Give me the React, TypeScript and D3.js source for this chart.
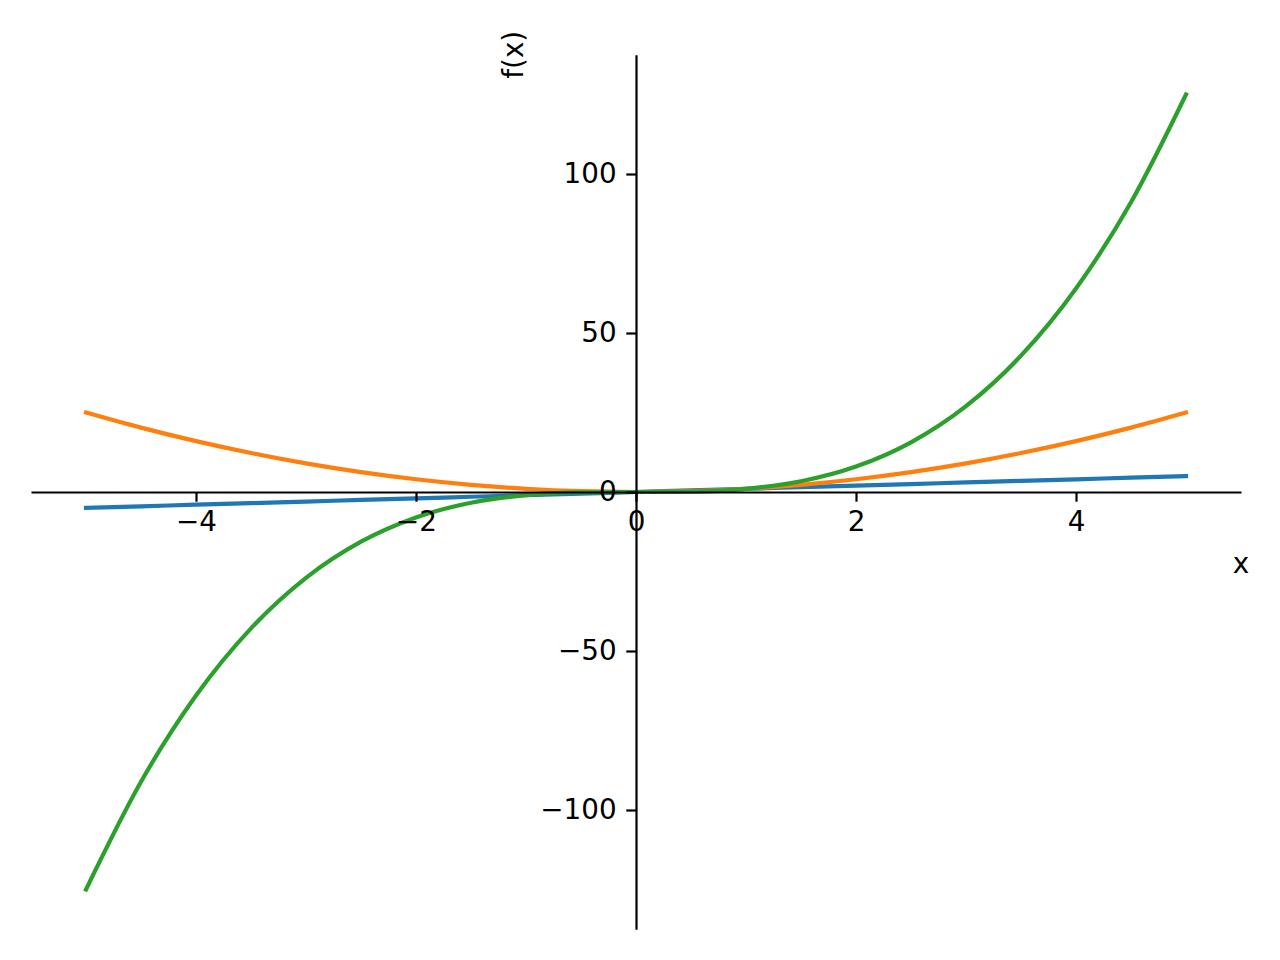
import { useEffect, useRef } from 'react';
import * as d3 from 'd3';

// sample points along x
const xValues = [-5, -4.5, -4, -3.5, -3, -2.5, -2, -1.5, -1, -0.5, 0, 0.5, 1, 1.5, 2, 2.5, 3, 3.5, 4, 4.5, 5];

// f(x) = x
const linearValues = [-5, -4.5, -4, -3.5, -3, -2.5, -2, -1.5, -1, -0.5, 0, 0.5, 1, 1.5, 2, 2.5, 3, 3.5, 4, 4.5, 5];

// f(x) = x^2
const squareValues = [25, 20.25, 16, 12.25, 9, 6.25, 4, 2.25, 1, 0.25, 0, 0.25, 1, 2.25, 4, 6.25, 9, 12.25, 16, 20.25, 25];

// f(x) = x^3
const cubeValues = [-125, -91.125, -64, -42.875, -27, -15.625, -8, -3.375, -1, -0.125, 0, 0.125, 1, 3.375, 8, 15.625, 27, 42.875, 64, 91.125, 125];

const xTicks = [-4, -2, 0, 2, 4];
const yTicks = [-100, -50, 0, 50, 100];

const seriesList = [
  { name: 'x', values: linearValues, color: '#1f77b4' },
  { name: 'x^2', values: squareValues, color: '#ff7f0e' },
  { name: 'x^3', values: cubeValues, color: '#2ca02c' },
];

const width = 1280;
const height = 960;
const fontSize = 27.8;
const tickLen = 9.7;

export default function App() {
  const svgRef = useRef<SVGSVGElement>(null);

  useEffect(() => {
    if (!svgRef.current) return;
    const svg = d3.select(svgRef.current);
    svg.selectAll('*').remove();

    const x = d3.scaleLinear().domain([-5.5, 5.5]).range([31, 1241]);
    const y = d3.scaleLinear().domain([-137.5, 137.5]).range([929.25, 54.75]);

    const line = d3.line<[number, number]>()
      .x(d => x(d[0]))
      .y(d => y(d[1]))
      .curve(d3.curveMonotoneX);

    // curves
    seriesList.forEach(s => {
      const pts: [number, number][] = xValues.map((xv, i) => [xv, s.values[i]]);
      svg.append('path')
        .datum(pts)
        .attr('fill', 'none')
        .attr('stroke', s.color)
        .attr('stroke-width', 4.2)
        .attr('stroke-linecap', 'square')
        .attr('d', line);
    });

    // x axis through y = 0
    const gx = svg.append('g')
      .attr('transform', `translate(0,${y(0)})`)
      .call(d3.axisBottom(x)
        .tickValues(xTicks)
        .tickSize(tickLen)
        .tickSizeOuter(0)
        .tickPadding(tickLen)
        .tickFormat(d3.format('d')));

    // y axis through x = 0
    const gy = svg.append('g')
      .attr('transform', `translate(${x(0)},0)`)
      .call(d3.axisLeft(y)
        .tickValues(yTicks)
        .tickSize(tickLen)
        .tickSizeOuter(0)
        .tickPadding(tickLen)
        .tickFormat(d3.format('d')));

    [gx, gy].forEach(g => {
      g.select('.domain').attr('stroke', '#000').attr('stroke-width', 2.2);
      g.selectAll('.tick line').attr('stroke', '#000').attr('stroke-width', 2.2);
      g.selectAll('.tick text')
        .attr('fill', '#000')
        .style('font-family', '"DejaVu Sans", sans-serif')
        .style('font-size', `${fontSize}px`);
    });

    // axis labels
    svg.append('text')
      .attr('x', x(5.5))
      .attr('y', 573)
      .attr('text-anchor', 'middle')
      .style('font-family', '"DejaVu Sans", sans-serif')
      .style('font-size', `${fontSize}px`)
      .text('x');

    svg.append('text')
      .attr('transform', `translate(523,${y(137.5)}) rotate(-90)`)
      .attr('text-anchor', 'middle')
      .style('font-family', '"DejaVu Sans", sans-serif')
      .style('font-size', `${fontSize}px`)
      .text('f(x)');
  }, []);

  return (
    <svg
      ref={svgRef}
      width={width}
      height={height}
      style={{ position: 'absolute', left: 0, top: 0, background: '#fff' }}
    />
  );
}
